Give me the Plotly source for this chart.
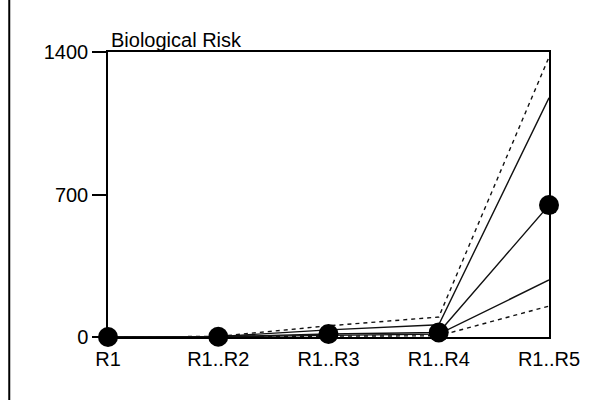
import plotly.graph_objects as go

categories = ["R1", "R1..R2", "R1..R3", "R1..R4", "R1..R5"]
mean_risk = [0, 1, 15, 22, 648]
upper_solid = [0, 2, 35, 60, 1175]
upper_dashed = [0, 3, 55, 98, 1375]
lower_solid = [0, 1, 8, 14, 280]
lower_dashed = [0, 0.5, 4, 6, 152]
y_ticks = [0, 700, 1400]
title_text = "Biological Risk"

FONT = "Liberation Sans, Arial, sans-serif"
LINE = "#111111"

fig = go.Figure()
for vals, dash in [(upper_dashed, "4px,4px"), (upper_solid, "solid"),
                   (lower_solid, "solid"), (lower_dashed, "4px,4px")]:
    fig.add_trace(go.Scatter(x=categories, y=vals, mode="lines",
                             line=dict(color=LINE, width=1.4, dash=dash),
                             showlegend=False, hoverinfo="skip"))
fig.add_trace(go.Scatter(x=categories, y=mean_risk, mode="lines+markers",
                         line=dict(color=LINE, width=1.4),
                         marker=dict(color="black", size=20),
                         cliponaxis=False, showlegend=False))

L, R, T, B = 108, 24, 52, 63
W, H = 592, 400
pw, ph = W - L - R, H - T - B

fig.update_layout(
    width=W, height=H,
    margin=dict(l=L, r=R, t=T, b=B, pad=0),
    paper_bgcolor="white", plot_bgcolor="white",
    font=dict(family=FONT, size=20, color="black"),
    xaxis=dict(type="category", range=[0, 4], showgrid=False, zeroline=False,
               showline=True, linecolor="black", linewidth=1.5, mirror=True,
               ticks="", ticklabelstandoff=3,
               tickfont=dict(family=FONT, size=20, color="black")),
    yaxis=dict(range=[0, 1400], tickvals=y_ticks, showgrid=False, zeroline=False,
               showline=True, linecolor="black", linewidth=1.5, mirror=True,
               ticks="outside", ticklen=14, tickwidth=1.5, tickcolor="black",
               tickfont=dict(family=FONT, size=20, color="black")),
    annotations=[dict(text=title_text, xref="paper", yref="paper", x=0, y=1,
                      xanchor="left", yanchor="bottom", xshift=1, yshift=-1,
                      showarrow=False,
                      font=dict(family=FONT, size=20, color="black"))],
    shapes=[dict(type="line", xref="paper", yref="paper",
                 x0=(5 - L) / pw, x1=(5 - L) / pw, y0=-B / ph, y1=1 + T / ph,
                 line=dict(color="black", width=2))],
)

fig.write_html("out.html")
